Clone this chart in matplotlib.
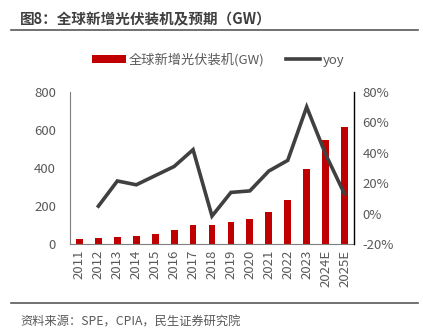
import matplotlib
matplotlib.use("Agg")
import matplotlib.pyplot as plt
from matplotlib.lines import Line2D
from matplotlib.patches import Patch

plt.rcParams['font.family'] = ['Noto Sans CJK SC', 'DejaVu Sans']

years = ["2011", "2012", "2013", "2014", "2015", "2016", "2017", "2018", "2019",
         "2020", "2021", "2022", "2023", "2024E", "2025E"]
installs = [30, 31, 38, 45, 53, 73, 101, 102, 115, 134, 171, 232, 393, 547, 616]
yoy = [None, 5, 21.5, 19, 25, 31, 42, -1.5, 14, 15, 28, 35, 70, 39, 13]

title = "图8：全球新增光伏装机及预期（GW）"
source = "资料来源：SPE，CPIA，民生证券研究院"
bar_label = "全球新增光伏装机(GW)"
line_label = "yoy"

W, H = 423, 336
fig = plt.figure(figsize=(W / 100, H / 100), dpi=100)
ax = fig.add_axes([70 / W, 1 - 244.3 / H, (354 - 70) / W, (244.3 - 91.7) / H])
ax2 = ax.twinx()

x = list(range(len(years)))
ax.bar(x, installs, width=0.36, color="#C00000", zorder=2)
xs = [i for i, v in zip(x, yoy) if v is not None]
ys = [v for v in yoy if v is not None]
ax2.plot(xs, ys, color="#404040", lw=2.6, solid_joinstyle="miter", zorder=3)

ax.set_xlim(-0.5, len(years) - 0.5)
ax.set_ylim(0, 800)
ax.set_yticks([0, 200, 400, 600, 800])
ax2.set_ylim(-20, 80)
ax2.set_yticks([-20, 0, 20, 40, 60, 80])
ax2.set_yticklabels([f"{v}%" for v in [-20, 0, 20, 40, 60, 80]])
ax.set_xticks(x)
ax.set_xticklabels(years, rotation=90)

tc = "#595959"
for a in (ax, ax2):
    a.tick_params(length=0, labelsize=9.5, labelcolor=tc, pad=4)
    a.spines['top'].set_visible(False)
ax.tick_params(axis='y', pad=10)
ax2.tick_params(axis='y', pad=6)
ax.spines['left'].set_color("#7f7f7f")
ax.spines['bottom'].set_color("#7f7f7f")
ax.spines['right'].set_visible(False)
ax2.spines['left'].set_visible(False)
ax2.spines['bottom'].set_visible(False)
ax2.spines['right'].set_color("#000000")
ax2.spines['right'].set_linewidth(1.0)
ax.patch.set_visible(False)

handles = [Patch(facecolor="#C00000", edgecolor="none", label=bar_label),
           Line2D([0], [0], color="#404040", lw=2.6, label=line_label)]
fig.legend(handles=handles, loc="center", bbox_to_anchor=(218 / W, 1 - 60 / H),
           ncol=2, frameon=False, fontsize=9.5, handlelength=2.6, handleheight=0.6,
           handletextpad=0.2, columnspacing=1.6, labelcolor=tc)

fig.text(20 / W, 1 - 19 / H, title, fontsize=10.5, fontweight="bold", color="#404040",
         va="center", ha="left")
fig.add_artist(Line2D([11 / W, 418 / W], [1 - 30 / H, 1 - 30 / H], color="#595959", lw=1.2))
fig.add_artist(Line2D([11 / W, 418 / W], [1 - 303 / H, 1 - 303 / H], color="#595959", lw=1.2))
fig.text(20 / W, 1 - 322 / H, source, fontsize=8.8, color="#595959", va="center", ha="left")

fig.savefig("out.png", dpi=100)
